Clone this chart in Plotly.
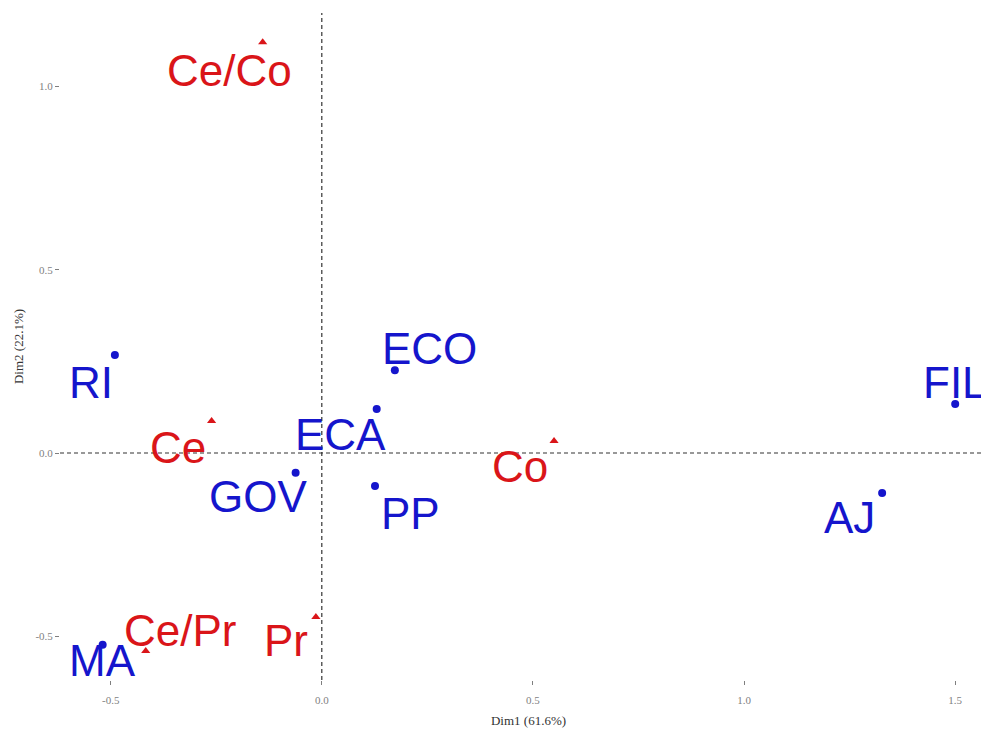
import plotly.graph_objects as go

row_labels = ["RI", "ECO", "ECA", "GOV", "PP", "FIL", "AJ", "MA"]
row_x = [-0.49, 0.173, 0.130, -0.062, 0.126, 1.50, 1.327, -0.519]
row_y = [0.267, 0.226, 0.120, -0.054, -0.090, 0.134, -0.109, -0.523]

col_labels = ["Ce/Co", "Ce", "Co", "Ce/Pr", "Pr"]
col_x = [-0.14, -0.261, 0.55, -0.417, -0.014]
col_y = [1.12, 0.087, 0.033, -0.54, -0.447]

# label offsets (pixels) relative to points
row_off = [(-24, -27), (35, 22), (-36, -25), (-38, -24), (35, -27), (0, 21), (-33, -25), (0, -16)]
col_off = [(-33, -28), (-34, -26), (-34, -26), (34, 21), (-30, -24)]

BLUE = "#1515CC"
RED = "#DA1519"

fig = go.Figure()
fig.add_trace(go.Scatter(x=row_x, y=row_y, mode="markers",
                         marker=dict(symbol="circle", size=8, color=BLUE),
                         showlegend=False, hoverinfo="text", text=row_labels))
fig.add_trace(go.Scatter(x=col_x, y=col_y, mode="markers",
                         marker=dict(symbol="triangle-up", size=8, color=RED),
                         showlegend=False, hoverinfo="text", text=col_labels))

for lab, x, y, (dx, dy) in zip(row_labels, row_x, row_y, row_off):
    fig.add_annotation(x=x, y=y, text=lab, showarrow=False, xshift=dx, yshift=dy,
                       font=dict(family="Liberation Sans, Arial", size=44, color=BLUE))
for lab, x, y, (dx, dy) in zip(col_labels, col_x, col_y, col_off):
    fig.add_annotation(x=x, y=y, text=lab, showarrow=False, xshift=dx, yshift=dy,
                       font=dict(family="Liberation Sans, Arial", size=44, color=RED))

fig.add_shape(type="line", xref="x", yref="paper", x0=0, x1=0, y0=0, y1=1,
              line=dict(color="#333333", width=1.2, dash="4px,3px"), layer="below")
fig.add_shape(type="line", xref="paper", yref="y", x0=0, x1=1, y0=0, y1=0,
              line=dict(color="#333333", width=1.2, dash="4px,3px"), layer="below")

tickfont = dict(family="Liberation Serif, Times New Roman", size=11, color="#7f7f7f")
fig.update_xaxes(range=[-0.62, 1.599], tickvals=[-0.5, 0.0, 0.5, 1.0, 1.5],
                 ticktext=["-0.5", "0.0", "0.5", "1.0", "1.5"],
                 showgrid=False, zeroline=False, showline=False, automargin=False,
                 ticks="outside", ticklen=4, tickcolor="#7f7f7f", tickfont=tickfont,
                 ticklabelstandoff=6,
                 title=dict(text="Dim1 (61.6%)", standoff=10,
                            font=dict(family="Liberation Serif, Times New Roman", size=13, color="#333333")))
fig.update_yaxes(range=[-0.619, 1.2], tickvals=[-0.5, 0.0, 0.5, 1.0],
                 ticktext=["-0.5", "0.0", "0.5", "1.0"],
                 showgrid=False, zeroline=False, showline=False, automargin=False,
                 ticks="outside", ticklen=4, tickcolor="#7f7f7f", tickfont=tickfont,
                 title=dict(text="Dim2 (22.1%)", standoff=8,
                            font=dict(family="Liberation Serif, Times New Roman", size=13, color="#333333")))

fig.update_layout(width=989, height=729, plot_bgcolor="white", paper_bgcolor="white",
                  margin=dict(l=52, r=0, t=5, b=57))
fig.write_html("out.html")
